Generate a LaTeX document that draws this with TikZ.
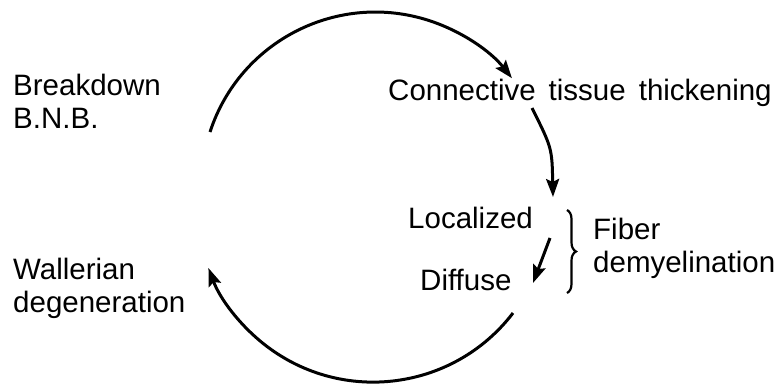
\documentclass[tikz,border=0pt]{standalone}
\usepackage{fontspec}
\setmainfont{Liberation Sans}
\usetikzlibrary{arrows.meta,decorations.pathreplacing}
\begin{document}
\begin{tikzpicture}[x=1pt,y=-1pt,
  lbl/.style={font=\fontsize{29.5}{33}\selectfont, inner sep=0pt, anchor=base west, align=left},
  cyc/.style={line width=3pt, -{Stealth[length=18pt,width=13pt,inset=3pt]}}]
\useasboundingbox (0,0) rectangle (780,384);

% labels (two-line labels are placed by the baseline of their last line)
\node[lbl] (bnb) at (13,128) {Breakdown\\B.N.B.};
\node[lbl] (ctt) at (388,100) {\spaceskip=13pt Connective tissue thickening};
\node[lbl] (loc) at (408,228) {Localized};
\node[lbl] (dif) at (420,290) {Diffuse};
\node[lbl] (fd) at (593,272) {Fiber\\demyelination};
\node[lbl] (wd) at (13,312) {Wallerian\\degeneration};

% arrow end points
\coordinate (a1) at (210,132);
\coordinate (b1) at (532,108);
\coordinate (b2) at (553,197);
\coordinate (c1) at (550,238);
\coordinate (c2) at (533,283);
\coordinate (d1) at (513,313);
\coordinate (br1) at (567,210);
\coordinate (br2) at (567,293);

% the cycle
\draw[cyc] (a1) arc[start angle=198.1, end angle=321.7, radius=174];
\draw[cyc] (b1) .. controls (552,148) .. (b2);
\draw[cyc] (c1) -- (c2);
\draw[cyc] (d1) arc[start angle=37.4, end angle=159.4, radius=176];

% brace grouping the two forms
\draw[decorate, decoration={brace, amplitude=9pt}, line width=2.2pt] (br1) -- (br2);
\end{tikzpicture}
\end{document}
